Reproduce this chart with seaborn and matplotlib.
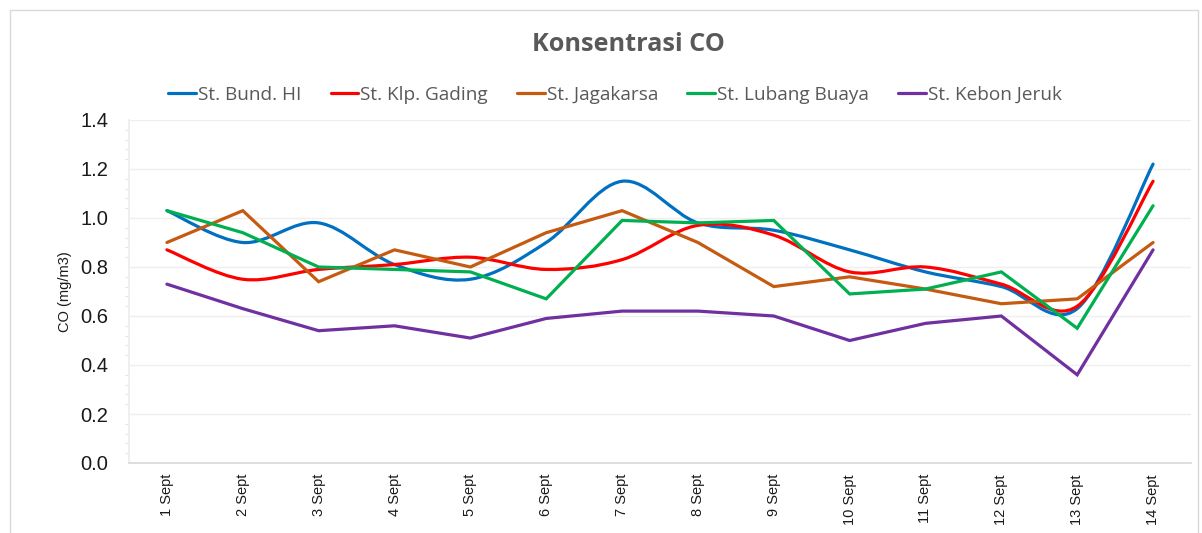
import matplotlib
matplotlib.use("Agg")
import matplotlib.pyplot as plt
import seaborn as sns
import pandas as pd
from matplotlib.path import Path
from matplotlib.patches import PathPatch, Rectangle
from matplotlib.lines import Line2D
from matplotlib.ticker import MultipleLocator

days = ["1 Sept", "2 Sept", "3 Sept", "4 Sept", "5 Sept", "6 Sept", "7 Sept",
        "8 Sept", "9 Sept", "10 Sept", "11 Sept", "12 Sept", "13 Sept", "14 Sept"]

bund_hi = [1.03, 0.90, 0.98, 0.81, 0.75, 0.90, 1.15, 0.98, 0.95, 0.87, 0.78, 0.72, 0.63, 1.22]
klp_gading = [0.87, 0.75, 0.79, 0.81, 0.84, 0.79, 0.83, 0.97, 0.93, 0.78, 0.80, 0.73, 0.64, 1.15]
jagakarsa = [0.90, 1.03, 0.74, 0.87, 0.80, 0.94, 1.03, 0.90, 0.72, 0.76, 0.71, 0.65, 0.67, 0.90]
lubang_buaya = [1.03, 0.94, 0.80, 0.79, 0.78, 0.67, 0.99, 0.98, 0.99, 0.69, 0.71, 0.78, 0.55, 1.05]
kebon_jeruk = [0.73, 0.63, 0.54, 0.56, 0.51, 0.59, 0.62, 0.62, 0.60, 0.50, 0.57, 0.60, 0.36, 0.87]

stations = ["St. Bund. HI", "St. Klp. Gading", "St. Jagakarsa", "St. Lubang Buaya", "St. Kebon Jeruk"]
values = [bund_hi, klp_gading, jagakarsa, lubang_buaya, kebon_jeruk]
colors = ["#0070C0", "#FF0000", "#C55A11", "#00B050", "#7030A0"]
smooth = [True, True, False, False, False]  # excel "smoothed line" for the first two

sns.set_theme(style="white")
plt.rcParams["font.family"] = ["Liberation Sans", "DejaVu Sans"]

fig = plt.figure(figsize=(12.02, 5.33), dpi=100)
ax = fig.add_axes([129 / 1202, 1 - 463 / 533, 1062 / 1202, 343 / 533])

rows = []
for name, vals in zip(stations, values):
    for i, v in enumerate(vals):
        rows.append({"day": i, "station": name, "co": v})
df = pd.DataFrame(rows)

straight = [s for s, sm in zip(stations, smooth) if not sm]
sns.lineplot(data=df[df.station.isin(straight)], x="day", y="co", hue="station",
             hue_order=straight, palette=[c for c, sm in zip(colors, smooth) if not sm],
             linewidth=2.3, legend=False, ax=ax, sort=False)
for k, line in enumerate(ax.get_lines()):
    line.set_zorder(3 + stations.index(straight[k]))
    line.set_solid_joinstyle("miter")


def smooth_path(ys):
    # bezier segments through the points, like Excel's smoothed line
    xs = list(range(len(ys)))
    verts = [(xs[0], ys[0])]
    codes = [Path.MOVETO]
    n = len(ys)
    for i in range(n - 1):
        p0 = (xs[max(i - 1, 0)], ys[max(i - 1, 0)])
        p1 = (xs[i], ys[i])
        p2 = (xs[i + 1], ys[i + 1])
        p3 = (xs[min(i + 2, n - 1)], ys[min(i + 2, n - 1)])
        c1 = (p1[0] + (p2[0] - p0[0]) / 6, p1[1] + (p2[1] - p0[1]) / 6)
        c2 = (p2[0] - (p3[0] - p1[0]) / 6, p2[1] - (p3[1] - p1[1]) / 6)
        verts += [c1, c2, p2]
        codes += [Path.CURVE4] * 3
    return Path(verts, codes)


for k, (vals, col, sm) in enumerate(zip(values, colors, smooth)):
    if sm:
        ax.add_patch(PathPatch(smooth_path(vals), facecolor="none", edgecolor=col,
                               lw=2.3, zorder=3 + k, capstyle="round"))

ax.set_xlim(-0.5, len(days) - 0.5)
ax.set_ylim(0, 1.4)
ax.set_yticks([0, 0.2, 0.4, 0.6, 0.8, 1.0, 1.2, 1.4])
ax.set_yticklabels([f"{t:.1f}" for t in ax.get_yticks()], fontsize=14.5, color="#1a1a1a")
ax.yaxis.set_minor_locator(MultipleLocator(0.04))
ax.set_xticks(range(len(days)))
ax.set_xticklabels(days, rotation=90, fontsize=10.5, color="#1a1a1a")
ax.tick_params(axis="x", length=0, pad=8)
ax.tick_params(axis="y", which="major", length=0, pad=15)
ax.tick_params(axis="y", which="minor", length=3, color="#E6E6E6", width=0.8, left=True)
ax.set_xlabel("")
ax.set_ylabel("CO (mg/m3)", fontsize=10.5, color="#1a1a1a", labelpad=6)

ax.grid(axis="y", which="major", color="#EFEFEF", lw=1)
ax.set_axisbelow(True)
for side in ["top", "right"]:
    ax.spines[side].set_visible(False)
ax.spines["bottom"].set_color("#D9D9D9")
ax.spines["bottom"].set_linewidth(1.2)
ax.spines["left"].set_color("#EDEDED")

fig.text(628 / 1202, 1 - 45 / 533, "Konsentrasi CO", ha="center", va="center",
         fontsize=18.2, fontweight="bold", color="#595959", family="Open Sans")

handles = [Line2D([], [], color=c, lw=2.3) for c in colors]
fig.legend(handles, stations, loc="center", bbox_to_anchor=(615 / 1202, 1 - 95 / 533),
           ncol=5, frameon=False, handlelength=1.45, handletextpad=0.1, columnspacing=1.55,
           prop={"family": "Open Sans", "size": 13.7}, labelcolor="#595959")

fig.add_artist(Rectangle((10 / 1202, -0.01), 1188 / 1202, 1 - 10 / 533 + 0.01,
                         transform=fig.transFigure, fill=False, edgecolor="#D9D9D9", lw=1))

fig.savefig("out.png", dpi=100)
